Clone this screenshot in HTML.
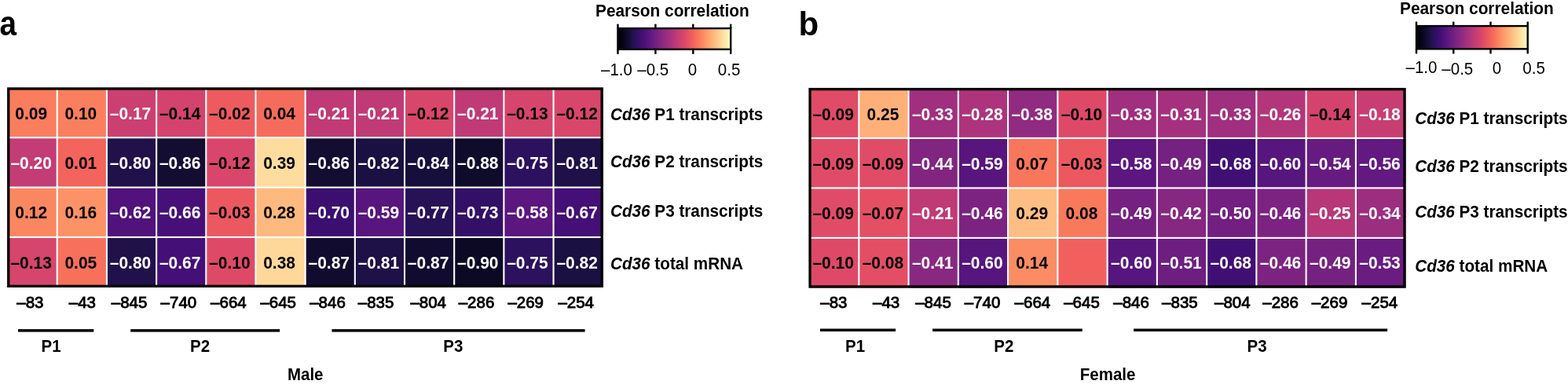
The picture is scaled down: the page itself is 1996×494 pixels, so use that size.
<!DOCTYPE html>
<html><head><meta charset="utf-8"><title>Cd36 promoter methylation correlation heatmaps</title>
<style>
html,body{margin:0;padding:0;background:#fff;}
body{width:1996px;height:494px;overflow:hidden;}
svg{display:block;}
text{font-family:'Liberation Sans', Arial, Helvetica, sans-serif;}
.cv{font-size:21px;font-weight:bold;}
.rl{font-size:20.7px;font-weight:bold;}
.xl{font-size:20.5px;font-weight:normal;stroke:#000;stroke-width:0.9px;}
.gl{font-size:20.5px;font-weight:bold;}
.ct{font-size:20.85px;font-weight:bold;}
.cl{font-size:20.5px;font-weight:normal;}
.let{font-size:42px;font-weight:bold;}
</style></head>
<body>
<svg width="1996" height="494" viewBox="0 0 1996 494">
<rect width="1996" height="494" fill="#fff"/>
<rect x="9.57" y="111.80" width="63.48" height="63.70" fill="#fa7d5e"/>
<rect x="72.75" y="111.80" width="63.48" height="63.70" fill="#fa7f5e"/>
<rect x="135.93" y="111.80" width="63.48" height="63.70" fill="#cc3f71"/>
<rect x="199.11" y="111.80" width="63.48" height="63.70" fill="#d3436e"/>
<rect x="262.29" y="111.80" width="63.48" height="63.70" fill="#ee5b5e"/>
<rect x="325.47" y="111.80" width="63.48" height="63.70" fill="#f66c5c"/>
<rect x="388.65" y="111.80" width="63.48" height="63.70" fill="#c03a76"/>
<rect x="451.83" y="111.80" width="63.48" height="63.70" fill="#c03a76"/>
<rect x="515.01" y="111.80" width="63.48" height="63.70" fill="#d9466b"/>
<rect x="578.19" y="111.80" width="63.48" height="63.70" fill="#c03a76"/>
<rect x="641.37" y="111.80" width="63.48" height="63.70" fill="#d6456c"/>
<rect x="704.55" y="111.80" width="63.48" height="63.70" fill="#d9466b"/>
<rect x="9.57" y="175.20" width="63.48" height="63.70" fill="#c43c75"/>
<rect x="72.75" y="175.20" width="63.48" height="63.70" fill="#f2645c"/>
<rect x="135.93" y="175.20" width="63.48" height="63.70" fill="#20114b"/>
<rect x="199.11" y="175.20" width="63.48" height="63.70" fill="#120d31"/>
<rect x="262.29" y="175.20" width="63.48" height="63.70" fill="#d9466b"/>
<rect x="325.47" y="175.20" width="63.48" height="63.70" fill="#fddc9e"/>
<rect x="388.65" y="175.20" width="63.48" height="63.70" fill="#120d31"/>
<rect x="451.83" y="175.20" width="63.48" height="63.70" fill="#1a1042"/>
<rect x="515.01" y="175.20" width="63.48" height="63.70" fill="#160f3b"/>
<rect x="578.19" y="175.20" width="63.48" height="63.70" fill="#0e0b2b"/>
<rect x="641.37" y="175.20" width="63.48" height="63.70" fill="#2c115f"/>
<rect x="704.55" y="175.20" width="63.48" height="63.70" fill="#1d1147"/>
<rect x="9.57" y="238.60" width="63.48" height="63.70" fill="#fb8761"/>
<rect x="72.75" y="238.60" width="63.48" height="63.70" fill="#fd9266"/>
<rect x="135.93" y="238.60" width="63.48" height="63.70" fill="#51127c"/>
<rect x="199.11" y="238.60" width="63.48" height="63.70" fill="#471078"/>
<rect x="262.29" y="238.60" width="63.48" height="63.70" fill="#ec5860"/>
<rect x="325.47" y="238.60" width="63.48" height="63.70" fill="#feb97f"/>
<rect x="388.65" y="238.60" width="63.48" height="63.70" fill="#3b0f70"/>
<rect x="451.83" y="238.60" width="63.48" height="63.70" fill="#59157e"/>
<rect x="515.01" y="238.60" width="63.48" height="63.70" fill="#271258"/>
<rect x="578.19" y="238.60" width="63.48" height="63.70" fill="#331067"/>
<rect x="641.37" y="238.60" width="63.48" height="63.70" fill="#5c167f"/>
<rect x="704.55" y="238.60" width="63.48" height="63.70" fill="#440f76"/>
<rect x="9.57" y="302.00" width="63.48" height="63.70" fill="#d6456c"/>
<rect x="72.75" y="302.00" width="63.48" height="63.70" fill="#f7705c"/>
<rect x="135.93" y="302.00" width="63.48" height="63.70" fill="#20114b"/>
<rect x="199.11" y="302.00" width="63.48" height="63.70" fill="#440f76"/>
<rect x="262.29" y="302.00" width="63.48" height="63.70" fill="#de4968"/>
<rect x="325.47" y="302.00" width="63.48" height="63.70" fill="#fed89a"/>
<rect x="388.65" y="302.00" width="63.48" height="63.70" fill="#110c2f"/>
<rect x="451.83" y="302.00" width="63.48" height="63.70" fill="#1d1147"/>
<rect x="515.01" y="302.00" width="63.48" height="63.70" fill="#110c2f"/>
<rect x="578.19" y="302.00" width="63.48" height="63.70" fill="#0b0924"/>
<rect x="641.37" y="302.00" width="63.48" height="63.70" fill="#2c115f"/>
<rect x="704.55" y="302.00" width="63.48" height="63.70" fill="#1a1042"/>
<rect x="71.70" y="111.80" width="2.1" height="253.60" fill="#fff"/>
<rect x="134.88" y="111.80" width="2.1" height="253.60" fill="#fff"/>
<rect x="198.06" y="111.80" width="2.1" height="253.60" fill="#fff"/>
<rect x="261.24" y="111.80" width="2.1" height="253.60" fill="#fff"/>
<rect x="324.42" y="111.80" width="2.1" height="253.60" fill="#fff"/>
<rect x="387.60" y="111.80" width="2.1" height="253.60" fill="#fff"/>
<rect x="450.78" y="111.80" width="2.1" height="253.60" fill="#fff"/>
<rect x="513.96" y="111.80" width="2.1" height="253.60" fill="#fff"/>
<rect x="577.14" y="111.80" width="2.1" height="253.60" fill="#fff"/>
<rect x="640.32" y="111.80" width="2.1" height="253.60" fill="#fff"/>
<rect x="703.50" y="111.80" width="2.1" height="253.60" fill="#fff"/>
<rect x="9.57" y="174.15" width="758.16" height="2.1" fill="#fff"/>
<rect x="9.57" y="237.55" width="758.16" height="2.1" fill="#fff"/>
<rect x="9.57" y="300.95" width="758.16" height="2.1" fill="#fff"/>
<rect x="10.75" y="112.95" width="755.40" height="251.40" fill="none" stroke="#000" stroke-width="3.3"/>
<text transform="translate(39.66,151.60) scale(1,1.06)" class="cv" text-anchor="middle" fill="#000">0.09</text>
<text transform="translate(102.84,151.60) scale(1,1.06)" class="cv" text-anchor="middle" fill="#000">0.10</text>
<text transform="translate(166.02,151.60) scale(1,1.06)" class="cv" text-anchor="middle" fill="#fff">–0.17</text>
<text transform="translate(229.20,151.60) scale(1,1.06)" class="cv" text-anchor="middle" fill="#000">–0.14</text>
<text transform="translate(292.38,151.60) scale(1,1.06)" class="cv" text-anchor="middle" fill="#000">–0.02</text>
<text transform="translate(355.56,151.60) scale(1,1.06)" class="cv" text-anchor="middle" fill="#000">0.04</text>
<text transform="translate(418.74,151.60) scale(1,1.06)" class="cv" text-anchor="middle" fill="#fff">–0.21</text>
<text transform="translate(481.92,151.60) scale(1,1.06)" class="cv" text-anchor="middle" fill="#fff">–0.21</text>
<text transform="translate(545.10,151.60) scale(1,1.06)" class="cv" text-anchor="middle" fill="#000">–0.12</text>
<text transform="translate(608.28,151.60) scale(1,1.06)" class="cv" text-anchor="middle" fill="#fff">–0.21</text>
<text transform="translate(671.46,151.60) scale(1,1.06)" class="cv" text-anchor="middle" fill="#000">–0.13</text>
<text transform="translate(734.64,151.60) scale(1,1.06)" class="cv" text-anchor="middle" fill="#000">–0.12</text>
<text transform="translate(39.66,215.00) scale(1,1.06)" class="cv" text-anchor="middle" fill="#fff">–0.20</text>
<text transform="translate(102.84,215.00) scale(1,1.06)" class="cv" text-anchor="middle" fill="#000">0.01</text>
<text transform="translate(166.02,215.00) scale(1,1.06)" class="cv" text-anchor="middle" fill="#fff">–0.80</text>
<text transform="translate(229.20,215.00) scale(1,1.06)" class="cv" text-anchor="middle" fill="#fff">–0.86</text>
<text transform="translate(292.38,215.00) scale(1,1.06)" class="cv" text-anchor="middle" fill="#000">–0.12</text>
<text transform="translate(355.56,215.00) scale(1,1.06)" class="cv" text-anchor="middle" fill="#000">0.39</text>
<text transform="translate(418.74,215.00) scale(1,1.06)" class="cv" text-anchor="middle" fill="#fff">–0.86</text>
<text transform="translate(481.92,215.00) scale(1,1.06)" class="cv" text-anchor="middle" fill="#fff">–0.82</text>
<text transform="translate(545.10,215.00) scale(1,1.06)" class="cv" text-anchor="middle" fill="#fff">–0.84</text>
<text transform="translate(608.28,215.00) scale(1,1.06)" class="cv" text-anchor="middle" fill="#fff">–0.88</text>
<text transform="translate(671.46,215.00) scale(1,1.06)" class="cv" text-anchor="middle" fill="#fff">–0.75</text>
<text transform="translate(734.64,215.00) scale(1,1.06)" class="cv" text-anchor="middle" fill="#fff">–0.81</text>
<text transform="translate(39.66,278.40) scale(1,1.06)" class="cv" text-anchor="middle" fill="#000">0.12</text>
<text transform="translate(102.84,278.40) scale(1,1.06)" class="cv" text-anchor="middle" fill="#000">0.16</text>
<text transform="translate(166.02,278.40) scale(1,1.06)" class="cv" text-anchor="middle" fill="#fff">–0.62</text>
<text transform="translate(229.20,278.40) scale(1,1.06)" class="cv" text-anchor="middle" fill="#fff">–0.66</text>
<text transform="translate(292.38,278.40) scale(1,1.06)" class="cv" text-anchor="middle" fill="#000">–0.03</text>
<text transform="translate(355.56,278.40) scale(1,1.06)" class="cv" text-anchor="middle" fill="#000">0.28</text>
<text transform="translate(418.74,278.40) scale(1,1.06)" class="cv" text-anchor="middle" fill="#fff">–0.70</text>
<text transform="translate(481.92,278.40) scale(1,1.06)" class="cv" text-anchor="middle" fill="#fff">–0.59</text>
<text transform="translate(545.10,278.40) scale(1,1.06)" class="cv" text-anchor="middle" fill="#fff">–0.77</text>
<text transform="translate(608.28,278.40) scale(1,1.06)" class="cv" text-anchor="middle" fill="#fff">–0.73</text>
<text transform="translate(671.46,278.40) scale(1,1.06)" class="cv" text-anchor="middle" fill="#fff">–0.58</text>
<text transform="translate(734.64,278.40) scale(1,1.06)" class="cv" text-anchor="middle" fill="#fff">–0.67</text>
<text transform="translate(39.66,341.80) scale(1,1.06)" class="cv" text-anchor="middle" fill="#000">–0.13</text>
<text transform="translate(102.84,341.80) scale(1,1.06)" class="cv" text-anchor="middle" fill="#000">0.05</text>
<text transform="translate(166.02,341.80) scale(1,1.06)" class="cv" text-anchor="middle" fill="#fff">–0.80</text>
<text transform="translate(229.20,341.80) scale(1,1.06)" class="cv" text-anchor="middle" fill="#fff">–0.67</text>
<text transform="translate(292.38,341.80) scale(1,1.06)" class="cv" text-anchor="middle" fill="#000">–0.10</text>
<text transform="translate(355.56,341.80) scale(1,1.06)" class="cv" text-anchor="middle" fill="#000">0.38</text>
<text transform="translate(418.74,341.80) scale(1,1.06)" class="cv" text-anchor="middle" fill="#fff">–0.87</text>
<text transform="translate(481.92,341.80) scale(1,1.06)" class="cv" text-anchor="middle" fill="#fff">–0.81</text>
<text transform="translate(545.10,341.80) scale(1,1.06)" class="cv" text-anchor="middle" fill="#fff">–0.87</text>
<text transform="translate(608.28,341.80) scale(1,1.06)" class="cv" text-anchor="middle" fill="#fff">–0.90</text>
<text transform="translate(671.46,341.80) scale(1,1.06)" class="cv" text-anchor="middle" fill="#fff">–0.75</text>
<text transform="translate(734.64,341.80) scale(1,1.06)" class="cv" text-anchor="middle" fill="#fff">–0.82</text>
<text transform="translate(777.00,152.50) scale(1,1.05)" class="rl"><tspan font-style="italic">Cd36</tspan> P1 transcripts</text>
<text transform="translate(777.00,213.20) scale(1,1.05)" class="rl"><tspan font-style="italic">Cd36</tspan> P2 transcripts</text>
<text transform="translate(777.00,275.50) scale(1,1.05)" class="rl"><tspan font-style="italic">Cd36</tspan> P3 transcripts</text>
<text transform="translate(777.00,342.90) scale(1,1.05)" class="rl"><tspan font-style="italic">Cd36</tspan> total mRNA</text>
<text transform="translate(38.40,392.00) scale(1,1.03)" class="xl" text-anchor="middle">–83</text>
<text transform="translate(104.90,392.00) scale(1,1.03)" class="xl" text-anchor="middle">–43</text>
<text transform="translate(164.60,392.00) scale(1,1.03)" class="xl" text-anchor="middle">–845</text>
<text transform="translate(227.40,392.00) scale(1,1.03)" class="xl" text-anchor="middle">–740</text>
<text transform="translate(290.90,392.00) scale(1,1.03)" class="xl" text-anchor="middle">–664</text>
<text transform="translate(354.20,392.00) scale(1,1.03)" class="xl" text-anchor="middle">–645</text>
<text transform="translate(417.00,392.00) scale(1,1.03)" class="xl" text-anchor="middle">–846</text>
<text transform="translate(478.60,392.00) scale(1,1.03)" class="xl" text-anchor="middle">–835</text>
<text transform="translate(545.20,392.00) scale(1,1.03)" class="xl" text-anchor="middle">–804</text>
<text transform="translate(606.50,392.00) scale(1,1.03)" class="xl" text-anchor="middle">–286</text>
<text transform="translate(669.20,392.00) scale(1,1.03)" class="xl" text-anchor="middle">–269</text>
<text transform="translate(733.20,392.00) scale(1,1.03)" class="xl" text-anchor="middle">–254</text>
<rect x="23.05" y="419.10" width="96.25" height="3.5" fill="#000"/>
<rect x="166.20" y="419.10" width="189.90" height="3.5" fill="#000"/>
<rect x="422.45" y="419.10" width="322.15" height="3.5" fill="#000"/>
<text transform="translate(65.00,448.00) scale(1,1.05)" class="gl" text-anchor="middle">P1</text>
<text transform="translate(254.60,448.00) scale(1,1.05)" class="gl" text-anchor="middle">P2</text>
<text transform="translate(576.90,448.00) scale(1,1.05)" class="gl" text-anchor="middle">P3</text>
<text transform="translate(388.70,483.80) scale(1,1.05)" class="gl" text-anchor="middle">Male</text>
<text transform="translate(-0.60,44.50) scale(0.92,1.045)" class="let">a</text>
<defs><linearGradient id="ga" x1="0" x2="1" y1="0" y2="0"><stop offset="0.0000" stop-color="#000004"/><stop offset="0.0312" stop-color="#030312"/><stop offset="0.0625" stop-color="#0a0822"/><stop offset="0.0938" stop-color="#130d34"/><stop offset="0.1250" stop-color="#1d1147"/><stop offset="0.1562" stop-color="#29115a"/><stop offset="0.1875" stop-color="#36106b"/><stop offset="0.2188" stop-color="#440f76"/><stop offset="0.2500" stop-color="#51127c"/><stop offset="0.2812" stop-color="#5d177f"/><stop offset="0.3125" stop-color="#6a1c81"/><stop offset="0.3438" stop-color="#762181"/><stop offset="0.3750" stop-color="#832681"/><stop offset="0.4062" stop-color="#902a81"/><stop offset="0.4375" stop-color="#9c2e7f"/><stop offset="0.4688" stop-color="#aa337d"/><stop offset="0.5000" stop-color="#b73779"/><stop offset="0.5312" stop-color="#c43c75"/><stop offset="0.5625" stop-color="#d0416f"/><stop offset="0.5938" stop-color="#dc4869"/><stop offset="0.6250" stop-color="#e75263"/><stop offset="0.6562" stop-color="#ef5d5e"/><stop offset="0.6875" stop-color="#f56b5c"/><stop offset="0.7188" stop-color="#f9795d"/><stop offset="0.7500" stop-color="#fc8961"/><stop offset="0.7812" stop-color="#fd9869"/><stop offset="0.8125" stop-color="#fea772"/><stop offset="0.8438" stop-color="#feb67c"/><stop offset="0.8750" stop-color="#fec488"/><stop offset="0.9062" stop-color="#fed395"/><stop offset="0.9375" stop-color="#fde2a3"/><stop offset="0.9688" stop-color="#fcf0b2"/><stop offset="1.0000" stop-color="#fcfdbf"/></linearGradient></defs>
<rect x="786.50" y="36.10" width="143.70" height="26.70" fill="url(#ga)" stroke="#000" stroke-width="2.4"/>
<line x1="786.50" x2="786.50" y1="30.60" y2="36.10" stroke="#000" stroke-width="2.4"/>
<line x1="786.50" x2="786.50" y1="62.80" y2="68.80" stroke="#000" stroke-width="2.4"/>
<line x1="834.40" x2="834.40" y1="30.60" y2="36.10" stroke="#000" stroke-width="2.4"/>
<line x1="834.40" x2="834.40" y1="62.80" y2="68.80" stroke="#000" stroke-width="2.4"/>
<line x1="882.30" x2="882.30" y1="30.60" y2="36.10" stroke="#000" stroke-width="2.4"/>
<line x1="882.30" x2="882.30" y1="62.80" y2="68.80" stroke="#000" stroke-width="2.4"/>
<line x1="930.20" x2="930.20" y1="30.60" y2="36.10" stroke="#000" stroke-width="2.4"/>
<line x1="930.20" x2="930.20" y1="62.80" y2="68.80" stroke="#000" stroke-width="2.4"/>
<text transform="translate(785.00,96.30) scale(1,1.06)" class="cl" text-anchor="middle">–1.0</text>
<text transform="translate(831.20,96.30) scale(1,1.06)" class="cl" text-anchor="middle">–0.5</text>
<text transform="translate(881.50,96.30) scale(1,1.06)" class="cl" text-anchor="middle">0</text>
<text transform="translate(928.10,96.30) scale(1,1.06)" class="cl" text-anchor="middle">0.5</text>
<text transform="translate(758.00,20.70) scale(1,1.03)" class="ct">Pearson correlation</text>
<rect x="1030.04" y="112.40" width="63.56" height="63.80" fill="#e04c67"/>
<rect x="1093.30" y="112.40" width="63.56" height="63.80" fill="#feb078"/>
<rect x="1156.56" y="112.40" width="63.56" height="63.80" fill="#a02f7f"/>
<rect x="1219.82" y="112.40" width="63.56" height="63.80" fill="#ad347c"/>
<rect x="1283.08" y="112.40" width="63.56" height="63.80" fill="#912b81"/>
<rect x="1346.34" y="112.40" width="63.56" height="63.80" fill="#de4968"/>
<rect x="1409.60" y="112.40" width="63.56" height="63.80" fill="#a02f7f"/>
<rect x="1472.86" y="112.40" width="63.56" height="63.80" fill="#a5317e"/>
<rect x="1536.12" y="112.40" width="63.56" height="63.80" fill="#a02f7f"/>
<rect x="1599.38" y="112.40" width="63.56" height="63.80" fill="#b3367a"/>
<rect x="1662.64" y="112.40" width="63.56" height="63.80" fill="#d3436e"/>
<rect x="1725.90" y="112.40" width="63.56" height="63.80" fill="#c83e73"/>
<rect x="1030.04" y="175.90" width="63.56" height="63.80" fill="#e04c67"/>
<rect x="1093.30" y="175.90" width="63.56" height="63.80" fill="#e04c67"/>
<rect x="1156.56" y="175.90" width="63.56" height="63.80" fill="#812581"/>
<rect x="1219.82" y="175.90" width="63.56" height="63.80" fill="#59157e"/>
<rect x="1283.08" y="175.90" width="63.56" height="63.80" fill="#f8765c"/>
<rect x="1346.34" y="175.90" width="63.56" height="63.80" fill="#ec5860"/>
<rect x="1409.60" y="175.90" width="63.56" height="63.80" fill="#5c167f"/>
<rect x="1472.86" y="175.90" width="63.56" height="63.80" fill="#752181"/>
<rect x="1536.12" y="175.90" width="63.56" height="63.80" fill="#400f74"/>
<rect x="1599.38" y="175.90" width="63.56" height="63.80" fill="#57157e"/>
<rect x="1662.64" y="175.90" width="63.56" height="63.80" fill="#671b80"/>
<rect x="1725.90" y="175.90" width="63.56" height="63.80" fill="#621980"/>
<rect x="1030.04" y="239.40" width="63.56" height="63.80" fill="#e04c67"/>
<rect x="1093.30" y="239.40" width="63.56" height="63.80" fill="#e44f64"/>
<rect x="1156.56" y="239.40" width="63.56" height="63.80" fill="#c03a76"/>
<rect x="1219.82" y="239.40" width="63.56" height="63.80" fill="#7c2382"/>
<rect x="1283.08" y="239.40" width="63.56" height="63.80" fill="#febd82"/>
<rect x="1346.34" y="239.40" width="63.56" height="63.80" fill="#f9795d"/>
<rect x="1409.60" y="239.40" width="63.56" height="63.80" fill="#752181"/>
<rect x="1472.86" y="239.40" width="63.56" height="63.80" fill="#862781"/>
<rect x="1536.12" y="239.40" width="63.56" height="63.80" fill="#721f81"/>
<rect x="1599.38" y="239.40" width="63.56" height="63.80" fill="#7c2382"/>
<rect x="1662.64" y="239.40" width="63.56" height="63.80" fill="#b73779"/>
<rect x="1725.90" y="239.40" width="63.56" height="63.80" fill="#9c2e7f"/>
<rect x="1030.04" y="302.90" width="63.56" height="63.80" fill="#de4968"/>
<rect x="1093.30" y="302.90" width="63.56" height="63.80" fill="#e34e65"/>
<rect x="1156.56" y="302.90" width="63.56" height="63.80" fill="#892881"/>
<rect x="1219.82" y="302.90" width="63.56" height="63.80" fill="#57157e"/>
<rect x="1283.08" y="302.90" width="63.56" height="63.80" fill="#fc8c63"/>
<rect x="1346.34" y="302.90" width="63.56" height="63.80" fill="#f1605d"/>
<rect x="1409.60" y="302.90" width="63.56" height="63.80" fill="#57157e"/>
<rect x="1472.86" y="302.90" width="63.56" height="63.80" fill="#6e1e81"/>
<rect x="1536.12" y="302.90" width="63.56" height="63.80" fill="#400f74"/>
<rect x="1599.38" y="302.90" width="63.56" height="63.80" fill="#7c2382"/>
<rect x="1662.64" y="302.90" width="63.56" height="63.80" fill="#752181"/>
<rect x="1725.90" y="302.90" width="63.56" height="63.80" fill="#6a1c81"/>
<rect x="1092.25" y="112.40" width="2.1" height="254.00" fill="#fff"/>
<rect x="1155.51" y="112.40" width="2.1" height="254.00" fill="#fff"/>
<rect x="1218.77" y="112.40" width="2.1" height="254.00" fill="#fff"/>
<rect x="1282.03" y="112.40" width="2.1" height="254.00" fill="#fff"/>
<rect x="1345.29" y="112.40" width="2.1" height="254.00" fill="#fff"/>
<rect x="1408.55" y="112.40" width="2.1" height="254.00" fill="#fff"/>
<rect x="1471.81" y="112.40" width="2.1" height="254.00" fill="#fff"/>
<rect x="1535.07" y="112.40" width="2.1" height="254.00" fill="#fff"/>
<rect x="1598.33" y="112.40" width="2.1" height="254.00" fill="#fff"/>
<rect x="1661.59" y="112.40" width="2.1" height="254.00" fill="#fff"/>
<rect x="1724.85" y="112.40" width="2.1" height="254.00" fill="#fff"/>
<rect x="1030.04" y="174.85" width="759.12" height="2.1" fill="#fff"/>
<rect x="1030.04" y="238.35" width="759.12" height="2.1" fill="#fff"/>
<rect x="1030.04" y="301.85" width="759.12" height="2.1" fill="#fff"/>
<rect x="1031.05" y="113.55" width="756.90" height="251.40" fill="none" stroke="#000" stroke-width="3.3"/>
<text transform="translate(1060.67,153.15) scale(1,1.06)" class="cv" text-anchor="middle" fill="#000">–0.09</text>
<text transform="translate(1123.93,153.15) scale(1,1.06)" class="cv" text-anchor="middle" fill="#000">0.25</text>
<text transform="translate(1187.19,153.15) scale(1,1.06)" class="cv" text-anchor="middle" fill="#fff">–0.33</text>
<text transform="translate(1250.45,153.15) scale(1,1.06)" class="cv" text-anchor="middle" fill="#fff">–0.28</text>
<text transform="translate(1313.71,153.15) scale(1,1.06)" class="cv" text-anchor="middle" fill="#fff">–0.38</text>
<text transform="translate(1376.97,153.15) scale(1,1.06)" class="cv" text-anchor="middle" fill="#000">–0.10</text>
<text transform="translate(1440.23,153.15) scale(1,1.06)" class="cv" text-anchor="middle" fill="#fff">–0.33</text>
<text transform="translate(1503.49,153.15) scale(1,1.06)" class="cv" text-anchor="middle" fill="#fff">–0.31</text>
<text transform="translate(1566.75,153.15) scale(1,1.06)" class="cv" text-anchor="middle" fill="#fff">–0.33</text>
<text transform="translate(1630.01,153.15) scale(1,1.06)" class="cv" text-anchor="middle" fill="#fff">–0.26</text>
<text transform="translate(1693.27,153.15) scale(1,1.06)" class="cv" text-anchor="middle" fill="#000">–0.14</text>
<text transform="translate(1756.53,153.15) scale(1,1.06)" class="cv" text-anchor="middle" fill="#fff">–0.18</text>
<text transform="translate(1060.67,215.75) scale(1,1.06)" class="cv" text-anchor="middle" fill="#000">–0.09</text>
<text transform="translate(1123.93,215.75) scale(1,1.06)" class="cv" text-anchor="middle" fill="#000">–0.09</text>
<text transform="translate(1187.19,215.75) scale(1,1.06)" class="cv" text-anchor="middle" fill="#fff">–0.44</text>
<text transform="translate(1250.45,215.75) scale(1,1.06)" class="cv" text-anchor="middle" fill="#fff">–0.59</text>
<text transform="translate(1313.71,215.75) scale(1,1.06)" class="cv" text-anchor="middle" fill="#000">0.07</text>
<text transform="translate(1376.97,215.75) scale(1,1.06)" class="cv" text-anchor="middle" fill="#000">–0.03</text>
<text transform="translate(1440.23,215.75) scale(1,1.06)" class="cv" text-anchor="middle" fill="#fff">–0.58</text>
<text transform="translate(1503.49,215.75) scale(1,1.06)" class="cv" text-anchor="middle" fill="#fff">–0.49</text>
<text transform="translate(1566.75,215.75) scale(1,1.06)" class="cv" text-anchor="middle" fill="#fff">–0.68</text>
<text transform="translate(1630.01,215.75) scale(1,1.06)" class="cv" text-anchor="middle" fill="#fff">–0.60</text>
<text transform="translate(1693.27,215.75) scale(1,1.06)" class="cv" text-anchor="middle" fill="#fff">–0.54</text>
<text transform="translate(1756.53,215.75) scale(1,1.06)" class="cv" text-anchor="middle" fill="#fff">–0.56</text>
<text transform="translate(1060.67,279.25) scale(1,1.06)" class="cv" text-anchor="middle" fill="#000">–0.09</text>
<text transform="translate(1123.93,279.25) scale(1,1.06)" class="cv" text-anchor="middle" fill="#000">–0.07</text>
<text transform="translate(1187.19,279.25) scale(1,1.06)" class="cv" text-anchor="middle" fill="#fff">–0.21</text>
<text transform="translate(1250.45,279.25) scale(1,1.06)" class="cv" text-anchor="middle" fill="#fff">–0.46</text>
<text transform="translate(1313.71,279.25) scale(1,1.06)" class="cv" text-anchor="middle" fill="#000">0.29</text>
<text transform="translate(1376.97,279.25) scale(1,1.06)" class="cv" text-anchor="middle" fill="#000">0.08</text>
<text transform="translate(1440.23,279.25) scale(1,1.06)" class="cv" text-anchor="middle" fill="#fff">–0.49</text>
<text transform="translate(1503.49,279.25) scale(1,1.06)" class="cv" text-anchor="middle" fill="#fff">–0.42</text>
<text transform="translate(1566.75,279.25) scale(1,1.06)" class="cv" text-anchor="middle" fill="#fff">–0.50</text>
<text transform="translate(1630.01,279.25) scale(1,1.06)" class="cv" text-anchor="middle" fill="#fff">–0.46</text>
<text transform="translate(1693.27,279.25) scale(1,1.06)" class="cv" text-anchor="middle" fill="#fff">–0.25</text>
<text transform="translate(1756.53,279.25) scale(1,1.06)" class="cv" text-anchor="middle" fill="#fff">–0.34</text>
<text transform="translate(1060.67,342.35) scale(1,1.06)" class="cv" text-anchor="middle" fill="#000">–0.10</text>
<text transform="translate(1123.93,342.35) scale(1,1.06)" class="cv" text-anchor="middle" fill="#000">–0.08</text>
<text transform="translate(1187.19,342.35) scale(1,1.06)" class="cv" text-anchor="middle" fill="#fff">–0.41</text>
<text transform="translate(1250.45,342.35) scale(1,1.06)" class="cv" text-anchor="middle" fill="#fff">–0.60</text>
<text transform="translate(1313.71,342.35) scale(1,1.06)" class="cv" text-anchor="middle" fill="#000">0.14</text>
<text transform="translate(1440.23,342.35) scale(1,1.06)" class="cv" text-anchor="middle" fill="#fff">–0.60</text>
<text transform="translate(1503.49,342.35) scale(1,1.06)" class="cv" text-anchor="middle" fill="#fff">–0.51</text>
<text transform="translate(1566.75,342.35) scale(1,1.06)" class="cv" text-anchor="middle" fill="#fff">–0.68</text>
<text transform="translate(1630.01,342.35) scale(1,1.06)" class="cv" text-anchor="middle" fill="#fff">–0.46</text>
<text transform="translate(1693.27,342.35) scale(1,1.06)" class="cv" text-anchor="middle" fill="#fff">–0.49</text>
<text transform="translate(1756.53,342.35) scale(1,1.06)" class="cv" text-anchor="middle" fill="#fff">–0.53</text>
<text transform="translate(1801.20,157.80) scale(1,1.05)" class="rl"><tspan font-style="italic">Cd36</tspan> P1 transcripts</text>
<text transform="translate(1801.20,218.90) scale(1,1.05)" class="rl"><tspan font-style="italic">Cd36</tspan> P2 transcripts</text>
<text transform="translate(1801.20,276.50) scale(1,1.05)" class="rl"><tspan font-style="italic">Cd36</tspan> P3 transcripts</text>
<text transform="translate(1801.20,345.70) scale(1,1.05)" class="rl"><tspan font-style="italic">Cd36</tspan> total mRNA</text>
<text transform="translate(1061.40,392.00) scale(1,1.03)" class="xl" text-anchor="middle">–83</text>
<text transform="translate(1128.10,392.00) scale(1,1.03)" class="xl" text-anchor="middle">–43</text>
<text transform="translate(1188.00,392.00) scale(1,1.03)" class="xl" text-anchor="middle">–845</text>
<text transform="translate(1250.50,392.00) scale(1,1.03)" class="xl" text-anchor="middle">–740</text>
<text transform="translate(1314.40,392.00) scale(1,1.03)" class="xl" text-anchor="middle">–664</text>
<text transform="translate(1377.00,392.00) scale(1,1.03)" class="xl" text-anchor="middle">–645</text>
<text transform="translate(1440.10,392.00) scale(1,1.03)" class="xl" text-anchor="middle">–846</text>
<text transform="translate(1501.90,392.00) scale(1,1.03)" class="xl" text-anchor="middle">–835</text>
<text transform="translate(1568.80,392.00) scale(1,1.03)" class="xl" text-anchor="middle">–804</text>
<text transform="translate(1630.10,392.00) scale(1,1.03)" class="xl" text-anchor="middle">–286</text>
<text transform="translate(1692.50,392.00) scale(1,1.03)" class="xl" text-anchor="middle">–269</text>
<text transform="translate(1756.40,392.00) scale(1,1.03)" class="xl" text-anchor="middle">–254</text>
<rect x="1044.00" y="418.50" width="96.10" height="3.5" fill="#000"/>
<rect x="1187.10" y="418.50" width="190.60" height="3.5" fill="#000"/>
<rect x="1443.10" y="418.50" width="323.00" height="3.5" fill="#000"/>
<text transform="translate(1088.50,448.00) scale(1,1.05)" class="gl" text-anchor="middle">P1</text>
<text transform="translate(1277.80,448.00) scale(1,1.05)" class="gl" text-anchor="middle">P2</text>
<text transform="translate(1600.00,448.00) scale(1,1.05)" class="gl" text-anchor="middle">P3</text>
<text transform="translate(1410.10,483.80) scale(1,1.05)" class="gl" text-anchor="middle">Female</text>
<text transform="translate(1016.50,44.50) scale(1.0,1.0)" class="let">b</text>
<defs><linearGradient id="gb" x1="0" x2="1" y1="0" y2="0"><stop offset="0.0000" stop-color="#000004"/><stop offset="0.0312" stop-color="#030312"/><stop offset="0.0625" stop-color="#0a0822"/><stop offset="0.0938" stop-color="#130d34"/><stop offset="0.1250" stop-color="#1d1147"/><stop offset="0.1562" stop-color="#29115a"/><stop offset="0.1875" stop-color="#36106b"/><stop offset="0.2188" stop-color="#440f76"/><stop offset="0.2500" stop-color="#51127c"/><stop offset="0.2812" stop-color="#5d177f"/><stop offset="0.3125" stop-color="#6a1c81"/><stop offset="0.3438" stop-color="#762181"/><stop offset="0.3750" stop-color="#832681"/><stop offset="0.4062" stop-color="#902a81"/><stop offset="0.4375" stop-color="#9c2e7f"/><stop offset="0.4688" stop-color="#aa337d"/><stop offset="0.5000" stop-color="#b73779"/><stop offset="0.5312" stop-color="#c43c75"/><stop offset="0.5625" stop-color="#d0416f"/><stop offset="0.5938" stop-color="#dc4869"/><stop offset="0.6250" stop-color="#e75263"/><stop offset="0.6562" stop-color="#ef5d5e"/><stop offset="0.6875" stop-color="#f56b5c"/><stop offset="0.7188" stop-color="#f9795d"/><stop offset="0.7500" stop-color="#fc8961"/><stop offset="0.7812" stop-color="#fd9869"/><stop offset="0.8125" stop-color="#fea772"/><stop offset="0.8438" stop-color="#feb67c"/><stop offset="0.8750" stop-color="#fec488"/><stop offset="0.9062" stop-color="#fed395"/><stop offset="0.9375" stop-color="#fde2a3"/><stop offset="0.9688" stop-color="#fcf0b2"/><stop offset="1.0000" stop-color="#fcfdbf"/></linearGradient></defs>
<rect x="1803.00" y="33.10" width="141.70" height="29.20" fill="url(#gb)" stroke="#000" stroke-width="2.4"/>
<line x1="1803.00" x2="1803.00" y1="27.60" y2="33.10" stroke="#000" stroke-width="2.4"/>
<line x1="1803.00" x2="1803.00" y1="62.30" y2="68.40" stroke="#000" stroke-width="2.4"/>
<line x1="1850.23" x2="1850.23" y1="27.60" y2="33.10" stroke="#000" stroke-width="2.4"/>
<line x1="1850.23" x2="1850.23" y1="62.30" y2="68.40" stroke="#000" stroke-width="2.4"/>
<line x1="1897.47" x2="1897.47" y1="27.60" y2="33.10" stroke="#000" stroke-width="2.4"/>
<line x1="1897.47" x2="1897.47" y1="62.30" y2="68.40" stroke="#000" stroke-width="2.4"/>
<line x1="1944.70" x2="1944.70" y1="27.60" y2="33.10" stroke="#000" stroke-width="2.4"/>
<line x1="1944.70" x2="1944.70" y1="62.30" y2="68.40" stroke="#000" stroke-width="2.4"/>
<text transform="translate(1809.50,93.20) scale(1,1.06)" class="cl" text-anchor="middle">–1.0</text>
<text transform="translate(1855.30,94.50) scale(1,1.06)" class="cl" text-anchor="middle">–0.5</text>
<text transform="translate(1905.50,93.50) scale(1,1.06)" class="cl" text-anchor="middle">0</text>
<text transform="translate(1952.60,94.00) scale(1,1.06)" class="cl" text-anchor="middle">0.5</text>
<text transform="translate(1782.00,17.80) scale(1,1.03)" class="ct">Pearson correlation</text>
</svg>
</body></html>
